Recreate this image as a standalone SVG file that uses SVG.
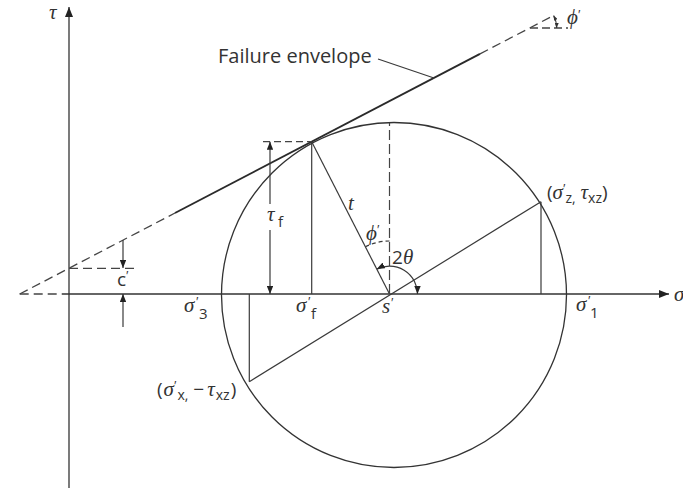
<svg xmlns="http://www.w3.org/2000/svg" width="683" height="488" viewBox="0 0 683 488">
<style>
.ln{stroke:#333;stroke-width:1.3;fill:none}
.thin{stroke:#3a3a3a;stroke-width:1.2;fill:none}
.env{stroke:#2a2a2a;stroke-width:1.9;fill:none}
.dsh{stroke:#444;stroke-width:1.3;fill:none;stroke-dasharray:9 5}
.dshv{stroke:#444;stroke-width:1.2;fill:none;stroke-dasharray:10 4}
.gk{font-family:"Liberation Serif","DejaVu Serif",serif;font-style:italic;font-size:21px;fill:#333}
.sn{font-family:"Open Sans","Liberation Sans",sans-serif;font-style:normal;fill:#333}
.sb{font-family:"Open Sans","Liberation Sans",sans-serif;font-style:normal;font-size:15px;fill:#333}
.pr{font-family:"Liberation Sans",sans-serif;font-style:normal;font-size:13px;fill:#333}
</style>
<defs>
<marker id="axh" viewBox="0 0 10 8" refX="10" refY="4" markerWidth="11" markerHeight="8" orient="auto-start-reverse" markerUnits="userSpaceOnUse"><path d="M0,0 L10,4 L0,8 z" fill="#222"/></marker>
<marker id="ah" viewBox="0 0 10 8" refX="10" refY="4" markerWidth="8" markerHeight="6.5" orient="auto-start-reverse" markerUnits="userSpaceOnUse"><path d="M0,0 L10,4 L0,8 z" fill="#222"/></marker>
<marker id="ahs" viewBox="0 0 10 8" refX="10" refY="4" markerWidth="5" markerHeight="4" orient="auto-start-reverse" markerUnits="userSpaceOnUse"><path d="M0,0 L10,4 L0,8 z" fill="#333"/></marker>
</defs>

<g id="axes">
<line class="ln" x1="69" y1="488" x2="69" y2="7" marker-end="url(#axh)"/>
<line class="dsh" x1="19.7" y1="294" x2="62" y2="294"/>
<line class="ln" x1="62" y1="294" x2="669" y2="294" marker-end="url(#axh)"/>
<text class="gk" x="49" y="19" font-size="18">τ</text>
<text class="gk" x="674" y="301">σ</text>
</g>

<g id="mohr-circle">
<circle class="ln" cx="394" cy="295" r="172.5"/>
</g>

<g id="failure-envelope">
<line class="dsh" x1="19.7" y1="294" x2="175" y2="213"/>
<line class="env" x1="175" y1="213" x2="480" y2="53.9"/>
<line class="dsh" x1="480" y1="53.9" x2="550" y2="17.4"/>
<line class="dsh" x1="530" y1="28" x2="568" y2="28" style="stroke-dasharray:8 4"/>
<path class="thin" d="M556.7,28 A27,27 0 0 0 553.6,15.5" marker-start="url(#ahs)" marker-end="url(#ahs)"/>
<text class="gk" x="567" y="24" font-size="17">ϕ</text>
<text class="pr" x="578" y="19" font-size="11">′</text>
<text class="sn" x="218" y="63" font-size="20" fill="#4a4a4a">Failure envelope</text>
<line class="thin" x1="378" y1="59" x2="434" y2="78"/>
</g>

<g id="connectors">
<line class="dsh" x1="69" y1="268.3" x2="135" y2="268.3"/>
<line class="thin" x1="123" y1="240" x2="123" y2="268" marker-end="url(#ah)"/>
<line class="thin" x1="123" y1="327" x2="123" y2="294" marker-end="url(#ah)"/>
<line class="dsh" x1="263" y1="141.7" x2="311.7" y2="141.7" style="stroke-dasharray:7 4"/>
<line class="thin" x1="270" y1="204" x2="270" y2="141.7" marker-end="url(#ah)"/>
<line class="thin" x1="270" y1="230" x2="270" y2="294" marker-end="url(#ah)"/>
<line class="thin" x1="311.7" y1="141.7" x2="311.7" y2="294"/>
<line class="thin" x1="311.7" y1="141.7" x2="389.5" y2="294"/>
<line class="dshv" x1="389.5" y1="294" x2="389.5" y2="123"/>
<path class="thin" d="M365.4,246.8 A53,53 0 0 1 389.5,241" style="stroke-dasharray:4 3"/>
<path class="thin" d="M417.5,294 A28,28 0 0 0 376.8,269.1" marker-start="url(#ah)" marker-end="url(#ah)"/>
<line class="thin" x1="249.3" y1="381.7" x2="541" y2="201.7"/>
<line class="thin" x1="541" y1="201.7" x2="541" y2="294"/>
<line class="thin" x1="249.3" y1="294" x2="249.3" y2="381.7"/>
</g>

<g id="labels">
<text class="sn" x="117" y="286" font-size="19">c</text>
<text class="pr" x="126" y="280">′</text>

<text class="gk" x="267" y="221">τ</text>
<text class="sb" x="278" y="227">f</text>

<text class="gk" x="348" y="210">t</text>
<text class="gk" x="366" y="240" font-size="18">ϕ</text>
<text class="pr" x="377" y="234" font-size="11">′</text>

<text x="392" y="264"><tspan class="sn" font-size="19">2</tspan><tspan class="gk">θ</tspan></text>

<text class="gk" x="184" y="312">σ</text>
<text class="pr" x="196" y="306">′</text>
<text class="sb" x="199" y="319">3</text>

<text class="gk" x="296" y="312">σ</text>
<text class="pr" x="308" y="306">′</text>
<text class="sb" x="311" y="319">f</text>

<text class="gk" x="382" y="313" font-size="19">s</text>
<text class="pr" x="391" y="307">′</text>

<text class="gk" x="576" y="311">σ</text>
<text class="pr" x="588" y="305">′</text>
<text class="sb" x="590" y="318">1</text>

<text class="sn" x="547" y="199" font-size="19">(<tspan class="gk" font-size="21">σ</tspan><tspan class="pr" font-size="13" dy="-6">′</tspan><tspan class="sn" font-size="14" dy="10">z,</tspan><tspan class="sn" dy="-4" font-size="19"> </tspan><tspan class="gk" font-size="21">τ</tspan><tspan class="sn" font-size="14" dy="4">xz</tspan><tspan class="sn" dy="-4" font-size="19">)</tspan></text>

<text class="sn" x="157" y="396" font-size="19">(<tspan class="gk" font-size="21" dx="1">σ</tspan><tspan class="pr" font-size="13" dy="-6">′</tspan><tspan class="sn" font-size="14" dy="10" dx="1">x,</tspan><tspan class="sn" dy="-4" font-size="19" dx="5">−</tspan><tspan class="gk" font-size="21" dx="3">τ</tspan><tspan class="sn" font-size="14" dy="4" dx="1">xz</tspan><tspan class="sn" dy="-4" font-size="19" dx="1">)</tspan></text>
</g>
</svg>
